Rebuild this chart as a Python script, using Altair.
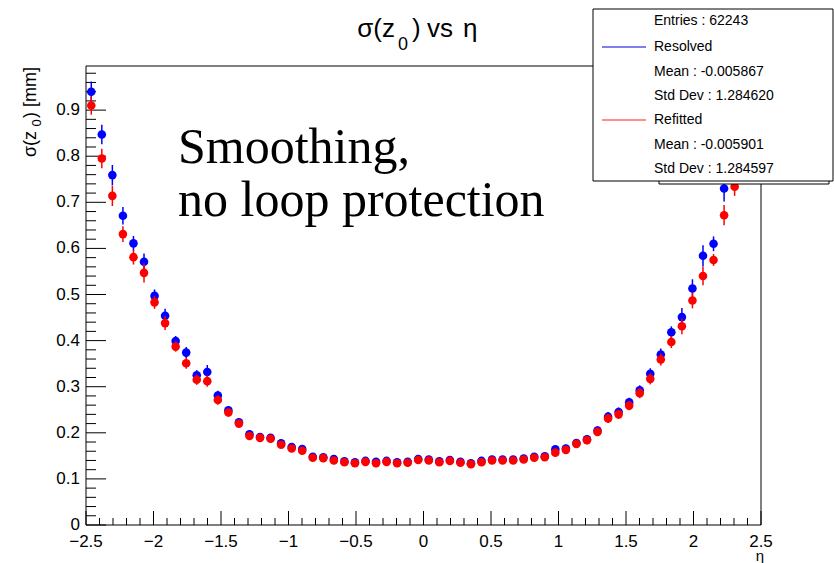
import altair as alt
import pandas as pd

# ---------------- data ----------------
N_BINS = 64
eta = [round(-2.5 + (i + 0.5) * 5.0 / N_BINS, 5) for i in range(N_BINS)]

resolved = [
    0.940, 0.847, 0.759, 0.671, 0.611, 0.571, 0.497, 0.454, 0.399, 0.374,
    0.325, 0.332, 0.281, 0.249, 0.223, 0.197, 0.191, 0.189, 0.177, 0.169,
    0.165, 0.148, 0.147, 0.143, 0.138, 0.136, 0.139, 0.137, 0.139, 0.136,
    0.137, 0.143, 0.142, 0.138, 0.141, 0.137, 0.134, 0.139, 0.142, 0.142,
    0.142, 0.144, 0.148, 0.149, 0.164, 0.166, 0.178, 0.186, 0.205, 0.235,
    0.245, 0.266, 0.292, 0.328, 0.370, 0.418, 0.451, 0.513, 0.584, 0.610,
    0.730, None, None, None,
]
refitted = [
    0.910, 0.795, 0.714, 0.631, 0.581, 0.547, 0.483, 0.438, 0.387, 0.351,
    0.315, 0.312, 0.271, 0.244, 0.220, 0.193, 0.189, 0.187, 0.174, 0.166,
    0.161, 0.146, 0.145, 0.140, 0.136, 0.134, 0.137, 0.134, 0.137, 0.134,
    0.135, 0.141, 0.140, 0.136, 0.139, 0.135, 0.132, 0.136, 0.140, 0.140,
    0.140, 0.142, 0.146, 0.147, 0.157, 0.163, 0.176, 0.184, 0.202, 0.231,
    0.240, 0.259, 0.286, 0.317, 0.359, 0.397, 0.431, 0.487, 0.540, 0.575,
    0.672, 0.734, None, None,
]
resolved_err = [
    0.022, 0.021, 0.022, 0.019, 0.016, 0.018, 0.014, 0.015, 0.011, 0.012,
    0.011, 0.015, 0.010, 0.009, 0.008, 0.008, 0.007, 0.007, 0.007, 0.006,
    0.006, 0.005, 0.005, 0.005, 0.005, 0.005, 0.005, 0.005, 0.005, 0.005,
    0.005, 0.005, 0.005, 0.005, 0.005, 0.005, 0.005, 0.005, 0.005, 0.005,
    0.005, 0.005, 0.005, 0.005, 0.008, 0.008, 0.008, 0.009, 0.009, 0.010,
    0.010, 0.010, 0.011, 0.012, 0.013, 0.013, 0.020, 0.020, 0.023, 0.016,
    0.028, None, None, None,
]
refitted_err = [
    0.020, 0.021, 0.022, 0.017, 0.016, 0.021, 0.014, 0.015, 0.011, 0.012,
    0.011, 0.012, 0.010, 0.009, 0.008, 0.008, 0.007, 0.007, 0.007, 0.006,
    0.006, 0.005, 0.005, 0.005, 0.005, 0.005, 0.005, 0.005, 0.005, 0.005,
    0.005, 0.005, 0.005, 0.005, 0.005, 0.005, 0.005, 0.005, 0.005, 0.005,
    0.005, 0.005, 0.005, 0.005, 0.008, 0.008, 0.008, 0.009, 0.009, 0.010,
    0.010, 0.010, 0.011, 0.012, 0.013, 0.013, 0.017, 0.017, 0.020, 0.013,
    0.022, 0.020, None, None,
]

x_major = [-2.5, -2.0, -1.5, -1.0, -0.5, 0.0, 0.5, 1.0, 1.5, 2.0, 2.5]
y_major = [0.0, 0.1, 0.2, 0.3, 0.4, 0.5, 0.6, 0.7, 0.8, 0.9]

legend_lines = [
    "Entries : 62243",
    "Resolved",
    "Mean : -0.005867",
    "Std Dev : 1.284620",
    "Refitted",
    "Mean : -0.005901",
    "Std Dev : 1.284597",
]
note_lines = ["Smoothing,", "no loop protection"]

BLUE = "#0000ff"
RED = "#ff0000"


def frame_of(vals, errs):
    rows = []
    for e, v, er in zip(eta, vals, errs):
        if v is None:
            continue
        rows.append({"eta": e, "val": v, "lo": v - er, "hi": v + er})
    return pd.DataFrame(rows)


df_res = frame_of(resolved, resolved_err)
df_ref = frame_of(refitted, refitted_err)

x_minor = [round(-2.5 + 0.1 * k, 3) for k in range(51)]
x_minor = [v for v in x_minor if all(abs(v - m) > 1e-6 for m in x_major)]
y_minor = [round(0.02 * k, 3) for k in range(50)]
y_minor = [v for v in y_minor if all(abs(v - m) > 1e-6 for m in y_major)]

W, H = 675, 459
xs = alt.Scale(domain=[-2.5, 2.5], nice=False, zero=False)
ys = alt.Scale(domain=[0, 0.9957], nice=False, zero=False)
FONT = "Liberation Sans"
one = pd.DataFrame({"a": [0]})


def errbars(df, color):
    return alt.Chart(df).mark_rule(color=color, strokeWidth=1.5).encode(
        x=alt.X("eta:Q", scale=xs, axis=None),
        y=alt.Y("lo:Q", scale=ys, axis=None),
        y2="hi:Q",
    )


def points(df, color):
    return alt.Chart(df).mark_point(filled=True, shape="circle", size=74,
                                    opacity=1, color=color, strokeWidth=0).encode(
        x=alt.X("eta:Q", scale=xs, axis=None),
        y=alt.Y("val:Q", scale=ys, axis=None),
    )


def xticks(vals, length):
    return alt.Chart(pd.DataFrame({"t": vals})).mark_rule(color="black", strokeWidth=1).encode(
        x=alt.X("t:Q", scale=xs, axis=None), y=alt.value(H), y2=alt.value(H - length))


def yticks(vals, length):
    return alt.Chart(pd.DataFrame({"t": vals})).mark_rule(color="black", strokeWidth=1).encode(
        y=alt.Y("t:Q", scale=ys, axis=None), x=alt.value(0), x2=alt.value(length))


x_labels = alt.Chart(pd.DataFrame({"t": x_major})).mark_text(
    font=FONT, fontSize=17, align="center", baseline="middle", color="black").encode(
    x=alt.X("t:Q", scale=xs, axis=None), y=alt.value(H + 17),
    text=alt.Text("t:Q", format="~g"))

y_labels = alt.Chart(pd.DataFrame({"t": y_major})).mark_text(
    font=FONT, fontSize=17, align="right", baseline="middle", color="black").encode(
    y=alt.Y("t:Q", scale=ys, axis=None), x=alt.value(-6),
    text=alt.Text("t:Q", format="~g"))


def txt(s, x, y, size, align="left", baseline="alphabetic", font=FONT, angle=0):
    kw = dict(text=s, fontSize=size, align=align, baseline=baseline, font=font,
              color="black")
    if angle:
        kw["angle"] = angle
    return alt.Chart(one).mark_text(**kw).encode(x=alt.value(x), y=alt.value(y))


def rect(x1, x2, y1, y2, fill="white"):
    return alt.Chart(one).mark_rect(fill=fill, stroke="black", strokeWidth=1).encode(
        x=alt.value(x1), x2=alt.value(x2), y=alt.value(y1), y2=alt.value(y2))


def hline(x1, x2, y, color):
    return alt.Chart(one).mark_rule(color=color, strokeWidth=1.2).encode(
        x=alt.value(x1), x2=alt.value(x2), y=alt.value(y))


frame = alt.Chart(one).mark_rect(fill="transparent", stroke="black", strokeWidth=1).encode(
    x=alt.value(0), x2=alt.value(W), y=alt.value(0), y2=alt.value(H))

layers = [
    frame,
    xticks(x_major, 14), xticks(x_minor, 7),
    yticks(y_major, 20), yticks(y_minor, 10),
    x_labels, y_labels,
    errbars(df_res, BLUE), points(df_res, BLUE),
    errbars(df_ref, RED), points(df_ref, RED),
    # annotation
    txt(note_lines[0], 92, 97, 50, font="Liberation Serif"),
    txt(note_lines[1], 92, 150, 50, font="Liberation Serif"),
    # title  sigma(z_0) vs eta
    txt("σ(z", 309, -29, 26, align="right"),
    txt("0", 317, -16, 18, align="center"),
    txt(")", 326, -29, 26, align="left"),
    txt("vs", 341, -29, 26, align="left"),
    txt("η", 377, -29, 26, align="left"),
    # y axis title
    txt("σ(z", -50, 91, 18, angle=270),
    txt("0", -45, 57, 13, align="center", angle=270),
    txt(") [mm]", -50, 52, 18, angle=270),
    # x axis title
    txt("η", 678, 495, 15, align="right"),
    # stats box
    rect(573, 743, 104, 118),
    rect(507, 747, -57, 115),
    hline(516, 560, -19, "#0000dd"),
    hline(516, 560, 54, "#ff2020"),
]
ys_leg = [-45, -19, 6, 30, 54, 79, 103]
for s, yv in zip(legend_lines, ys_leg):
    layers.append(txt(s, 568, yv, 14, baseline="middle"))

chart = alt.layer(*layers).properties(
    width=W, height=H,
    autosize=alt.AutoSizeParams(type="none"),
    padding={"left": 86, "top": 66, "right": 73, "bottom": 38},
    background="white",
).configure_view(stroke=None)

chart.save("out.html", embed_options={"renderer": "svg", "actions": False})
